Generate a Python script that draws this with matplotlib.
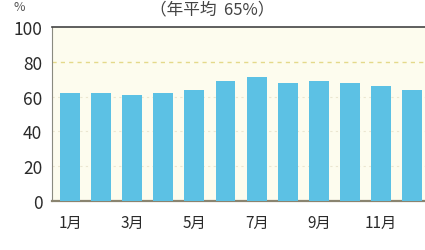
import numpy as np
import matplotlib.pyplot as plt

plt.rcParams['font.family'] = ['Noto Sans CJK JP', 'DejaVu Sans']

months = [f"{m}月" for m in range(1, 13)]
values = [62, 62, 61, 62, 64, 69, 71, 68, 69, 68, 66, 64]
yticks = [0, 20, 40, 60, 80, 100]
title = "（年平均  65%）"

W, H = 425, 251
fig = plt.figure(figsize=(W / 100, H / 100), dpi=100)
# axes: left edge x=52, top y=28, bottom y=202, runs past right edge
ax = fig.add_axes([52 / W, 1 - 202 / H, (W - 52) / W + 0.01, (202 - 28) / H])
ax.set_facecolor('#fdfcee')

x = np.arange(1, 13)
ax.bar(x, values, width=0.64, color='#5cc1e4', zorder=3)
ax.set_xlim(0.42, 12.55)
ax.set_ylim(0, 100)

for v in (20, 40, 60):
    ax.axhline(v, color='#ebe6d0', lw=0.8, ls=(0, (2, 3)), zorder=1)
ax.axhline(80, color='#e4d98a', lw=1.0, ls=(0, (3, 3)), zorder=1)

ax.set_yticks(yticks)
ax.set_yticklabels([str(t) for t in yticks], fontsize=12.5, color='#2a2a2a')
ax.set_xticks(x[::2])
ax.set_xticklabels(months[::2], fontsize=11, color='#2a2a2a')
ax.tick_params(length=0)
ax.tick_params(axis='x', pad=9)
ax.tick_params(axis='y', pad=7)

ax.spines['right'].set_visible(False)
ax.spines['top'].set_color('#444444')
ax.spines['top'].set_linewidth(1.2)
ax.spines['left'].set_color('#8a8a80')
ax.spines['bottom'].set_color('#8a8470')
ax.spines['bottom'].set_linewidth(1.6)

fig.text(19 / W, 1 - 11 / H, '%', fontsize=9, color='#555555', ha='center', va='baseline')
fig.text(212 / W, 1 - 14 / H, title, fontsize=12, color='#444444', ha='center', va='baseline')

fig.savefig('out.png', dpi=100)
